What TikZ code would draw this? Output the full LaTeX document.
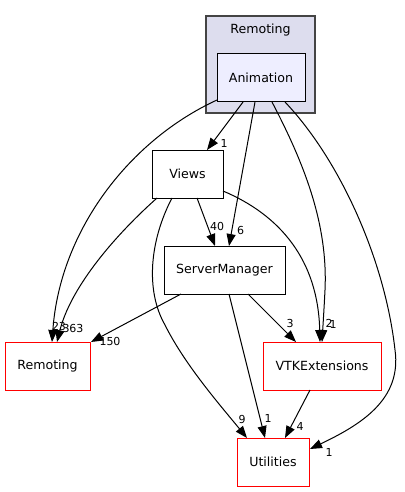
\documentclass[tikz,border=0pt]{standalone}
\usepackage{fontspec}
\setmainfont{DejaVu Sans}
\usetikzlibrary{arrows.meta,calc}
\definecolor{clfill}{HTML}{DDDDEE}
\definecolor{clborder}{HTML}{444444}
\definecolor{animfill}{HTML}{EEEEFF}
\tikzset{
  dirbox/.style={draw=black,fill=white,line width=1pt,minimum height=48pt,inner sep=0pt,font=\fontsize{12.6}{14}\selectfont},
  extbox/.style={dirbox,draw=red},
  edge/.style={draw=black,line width=1pt,-{Triangle[length=12pt,width=9pt]}},
  elabel/.style={font=\fontsize{11}{12}\selectfont,inner sep=0pt}
}
\begin{document}
\begin{tikzpicture}[x=1pt,y=-1pt]
\useasboundingbox (0,0) rectangle (404,492);
\fill[white] (0,0) rectangle (404,492);
% cluster
\node[draw=clborder,fill=clfill,line width=1.3pt,minimum width=109pt,minimum height=97pt,inner sep=0pt] (cluster) at (260.5,64.5) {};
\node[font=\fontsize{12.6}{14}\selectfont,inner sep=0pt] (clusterlabel) at (260.5,30) {Remoting};
% nodes
\node[dirbox,fill=animfill,minimum width=88pt] (anim) at (261,78) {Animation};
\node[dirbox,minimum width=71pt] (views) at (187.5,174) {Views};
\node[dirbox,minimum width=121pt] (sm) at (224.5,270) {ServerManager};
\node[extbox,minimum width=85pt] (rem) at (47.5,366) {Remoting};
\node[extbox,minimum width=118pt] (vtk) at (322,366) {VTKExtensions};
\node[extbox,minimum width=72pt] (util) at (273,462) {Utilities};
% edges
\draw[edge] ($(anim)+(-44,22)$) .. controls (130,140) and (60,230) .. ($(rem)+(4.5,-24)$);
\draw[edge] ($(anim)+(-18,24)$) -- ($(views)+(19.5,-24)$);
\draw[edge] ($(anim)+(-6,24)$) -- ($(sm)+(4.5,-24)$);
\draw[edge] ($(anim)+(11,24)$) .. controls (305,165) and (328,225) .. (325,290) .. controls (324,310) and (323,325) .. ($(vtk)+(0,-24)$);
\draw[edge] ($(anim)+(24,24)$) .. controls (340,160) and (385,260) .. (395,350) .. controls (402,400) and (360,425) .. ($(util)+(37,-13)$);
\draw[edge] ($(views)+(-30.5,24)$) .. controls (110,240) and (70,290) .. ($(rem)+(9.5,-24)$);
\draw[edge] ($(views)+(9.5,24)$) -- ($(sm)+(-9.5,-24)$);
\draw[edge] ($(views)+(35.5,17)$) .. controls (280,215) and (318,260) .. ($(vtk)+(-2,-24)$);
\draw[edge] ($(views)+(-15.5,24)$) .. controls (150,240) and (145,290) .. (165,325) .. controls (185,365) and (220,405) .. ($(util)+(-26,-24)$);
\draw[edge] ($(sm)+(-43.5,24)$) -- ($(rem)+(43.5,-24)$);
\draw[edge] ($(sm)+(4.5,24)$) -- ($(util)+(-8,-24)$);
\draw[edge] ($(sm)+(23.5,24)$) -- ($(vtk)+(-26,-24)$);
\draw[edge] ($(vtk)+(-12,24)$) -- ($(util)+(12,-24)$);
% labels
\node[elabel] (l1) at (224,143) {1};
\node[elabel] (l2) at (240.5,230) {6};
\node[elabel] (l3) at (217,226) {40};
\node[elabel] (l4) at (59,326) {23};
\node[elabel] (l5) at (73,328) {363};
\node[elabel] (l6) at (110,341) {150};
\node[elabel] (l7) at (290,323) {3};
\node[elabel] (l8) at (329,323) {2};
\node[elabel] (l9) at (333,324) {1};
\node[elabel] (l10) at (242,419) {9};
\node[elabel] (l11) at (268,418) {1};
\node[elabel] (l12) at (300,426) {4};
\node[elabel] (l13) at (329,452) {1};
\end{tikzpicture}
\end{document}
